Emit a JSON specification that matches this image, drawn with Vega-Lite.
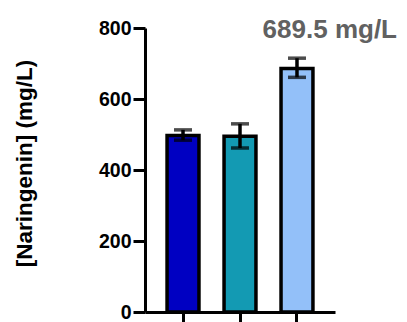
{
  "$schema": "https://vega.github.io/schema/vega-lite/v6.json",
  "width": 190,
  "height": 284,
  "autosize": "none",
  "padding": {"left": 145, "top": 28, "right": 72, "bottom": 10},
  "background": "white",
  "config": {
    "view": {"stroke": null},
    "font": "Liberation Sans"
  },
  "title": {
    "text": "689.5 mg/L",
    "anchor": "end",
    "frame": "group",
    "baseline": "alphabetic",
    "dx": 62,
    "dy": 50,
    "font": "Liberation Sans",
    "fontSize": 26,
    "fontWeight": "bold",
    "color": "#616161"
  },
  "data": {
    "values": [
      {"group": "A", "mean": 497, "lo": 484, "hi": 513},
      {"group": "B", "mean": 495, "lo": 462, "hi": 530},
      {"group": "C", "mean": 686, "lo": 661, "hi": 715}
    ]
  },
  "encoding": {
    "x": {
      "field": "group",
      "type": "nominal",
      "scale": {"paddingInner": 0.44, "paddingOuter": 0.387},
      "axis": {
        "title": null,
        "labels": false,
        "domainWidth": 3,
        "domainColor": "black",
        "tickWidth": 3,
        "tickColor": "black",
        "tickSize": 11,
        "grid": false
      }
    }
  },
  "layer": [
    {
      "mark": {"type": "bar", "stroke": "black", "strokeWidth": 3.5},
      "encoding": {
        "y": {
          "field": "mean",
          "type": "quantitative",
          "scale": {"domain": [0, 800], "nice": false},
          "axis": {
            "title": "[Naringenin] (mg/L)",
            "values": [0, 200, 400, 600, 800],
            "grid": false,
            "domainWidth": 3,
            "domainColor": "black",
            "tickWidth": 3,
            "tickColor": "black",
            "tickSize": 12,
            "labelFont": "Liberation Sans",
            "labelFontSize": 19.5,
            "labelFontWeight": "bold",
            "labelColor": "black",
            "labelPadding": 2,
            "titleFont": "Liberation Sans",
            "titleFontSize": 22.5,
            "titleFontWeight": "bold",
            "titleColor": "black",
            "titlePadding": 62,
            "titleY": 135
          }
        },
        "fill": {
          "field": "group",
          "type": "nominal",
          "scale": {"domain": ["A", "B", "C"], "range": ["#0000c2", "#139ab3", "#93c0f9"]},
          "legend": null
        }
      }
    },
    {
      "mark": {"type": "rule", "color": "black", "strokeWidth": 3.5},
      "encoding": {
        "y": {"field": "lo", "type": "quantitative"},
        "y2": {"field": "hi"}
      }
    },
    {
      "mark": {"type": "tick", "color": "black", "thickness": 3.5, "size": 18},
      "encoding": {
        "y": {"field": "lo", "type": "quantitative"}
      }
    },
    {
      "mark": {"type": "tick", "color": "black", "thickness": 3.5, "size": 18},
      "encoding": {
        "y": {"field": "hi", "type": "quantitative"}
      }
    }
  ]
}
